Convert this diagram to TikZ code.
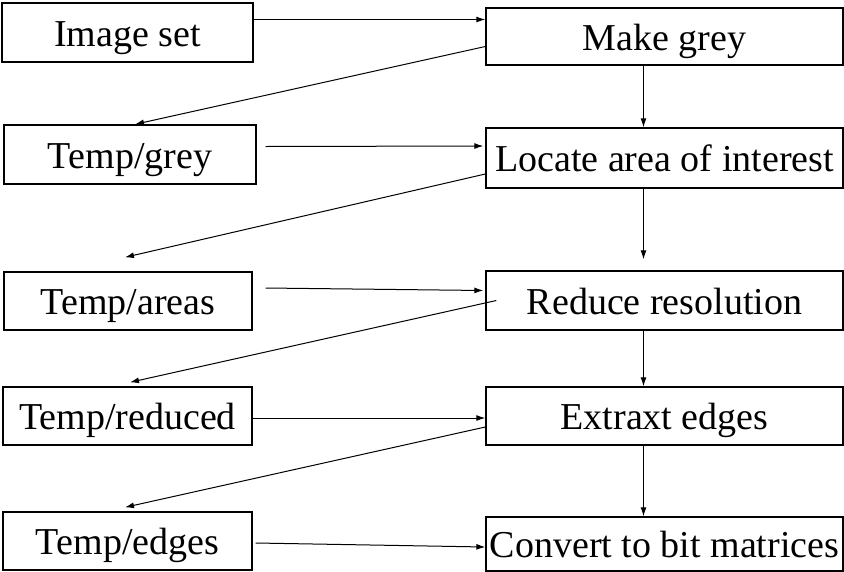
\documentclass[tikz,border=0pt]{standalone}
\usepackage{fontspec}
\setmainfont{Liberation Serif}
\usetikzlibrary{arrows.meta}

\tikzset{
  box/.style={draw,line width=1.4pt,inner sep=0pt,text height=31pt,text depth=4pt,font=\fontsize{38}{42}\selectfont},
  stage/.style={box,minimum width=357pt},
  tempbox/.style={box},
  arr/.style={->,line width=1pt,>={Latex[length=9pt,width=6pt]}}
}

\begin{document}
\begin{tikzpicture}[x=1pt,y=-1pt]
\useasboundingbox (0,0) rectangle (844,571);
% left column
\node[tempbox,minimum width=251pt,minimum height=59pt] (imgset) at (127.5,32.5) {Image set};
\node[tempbox,minimum width=252pt,minimum height=59pt] (tgrey) at (130,154.5) {Temp/grey};
\node[tempbox,minimum width=248pt,minimum height=58pt] (tareas) at (128,301) {Temp/areas};
\node[tempbox,minimum width=249pt,minimum height=58pt] (treduced) at (127.5,416) {Temp/reduced};
\node[tempbox,minimum width=249pt,minimum height=58pt] (tedges) at (127.5,541) {Temp/edges};
% right column
\node[stage,minimum height=57pt] (mkgrey) at (664.5,36.5) {Make grey};
\node[stage,minimum height=60pt] (locate) at (664.5,158) {Locate area of interest};
\node[stage,minimum height=59pt] (reduce) at (664.5,300.5) {Reduce resolution};
\node[stage,minimum height=58pt] (extract) at (664.5,416) {Extraxt edges};
\node[stage,minimum height=54pt] (convert) at (664.5,544) {Convert to bit matrices};
% into the stages
\draw[arr] ([yshift=13pt]imgset.east) -- ([yshift=17pt]mkgrey.west);
\draw[arr] ([xshift=9pt,yshift=8pt]tgrey.east) -- ([xshift=-2pt,yshift=12pt]locate.west);
\draw[arr] ([xshift=13pt,yshift=13pt]tareas.east) -- ([xshift=-2pt,yshift=10pt]reduce.west);
\draw[arr] ([yshift=-2pt]treduced.east) -- ([yshift=-2pt]extract.west);
\draw[arr] ([xshift=3pt,yshift=-2pt]tedges.east) -- ([yshift=-3pt]convert.west);
% stage to stage
\draw[arr] ([xshift=-21pt]mkgrey.south) -- ([xshift=-21pt]locate.north);
\draw[arr] ([xshift=-21pt]locate.south) -- ([xshift=-21pt,yshift=11pt]reduce.north);
\draw[arr] ([xshift=-21pt]reduce.south) -- ([xshift=-21pt]extract.north);
\draw[arr] ([xshift=-21pt]extract.south) -- ([xshift=-21pt]convert.north);
% results back to temp
\draw[arr] ([yshift=-10pt]mkgrey.west) -- ([xshift=5pt]tgrey.north);
\draw[arr] ([yshift=-16pt]locate.west) -- ([xshift=-3pt,yshift=14pt]tareas.north);
\draw[arr] ([xshift=11pt]reduce.west) -- ([xshift=2.5pt,yshift=4pt]treduced.north);
\draw[arr] ([yshift=-11pt]extract.west) -- ([xshift=-2.5pt,yshift=4pt]tedges.north);
\end{tikzpicture}
\end{document}
